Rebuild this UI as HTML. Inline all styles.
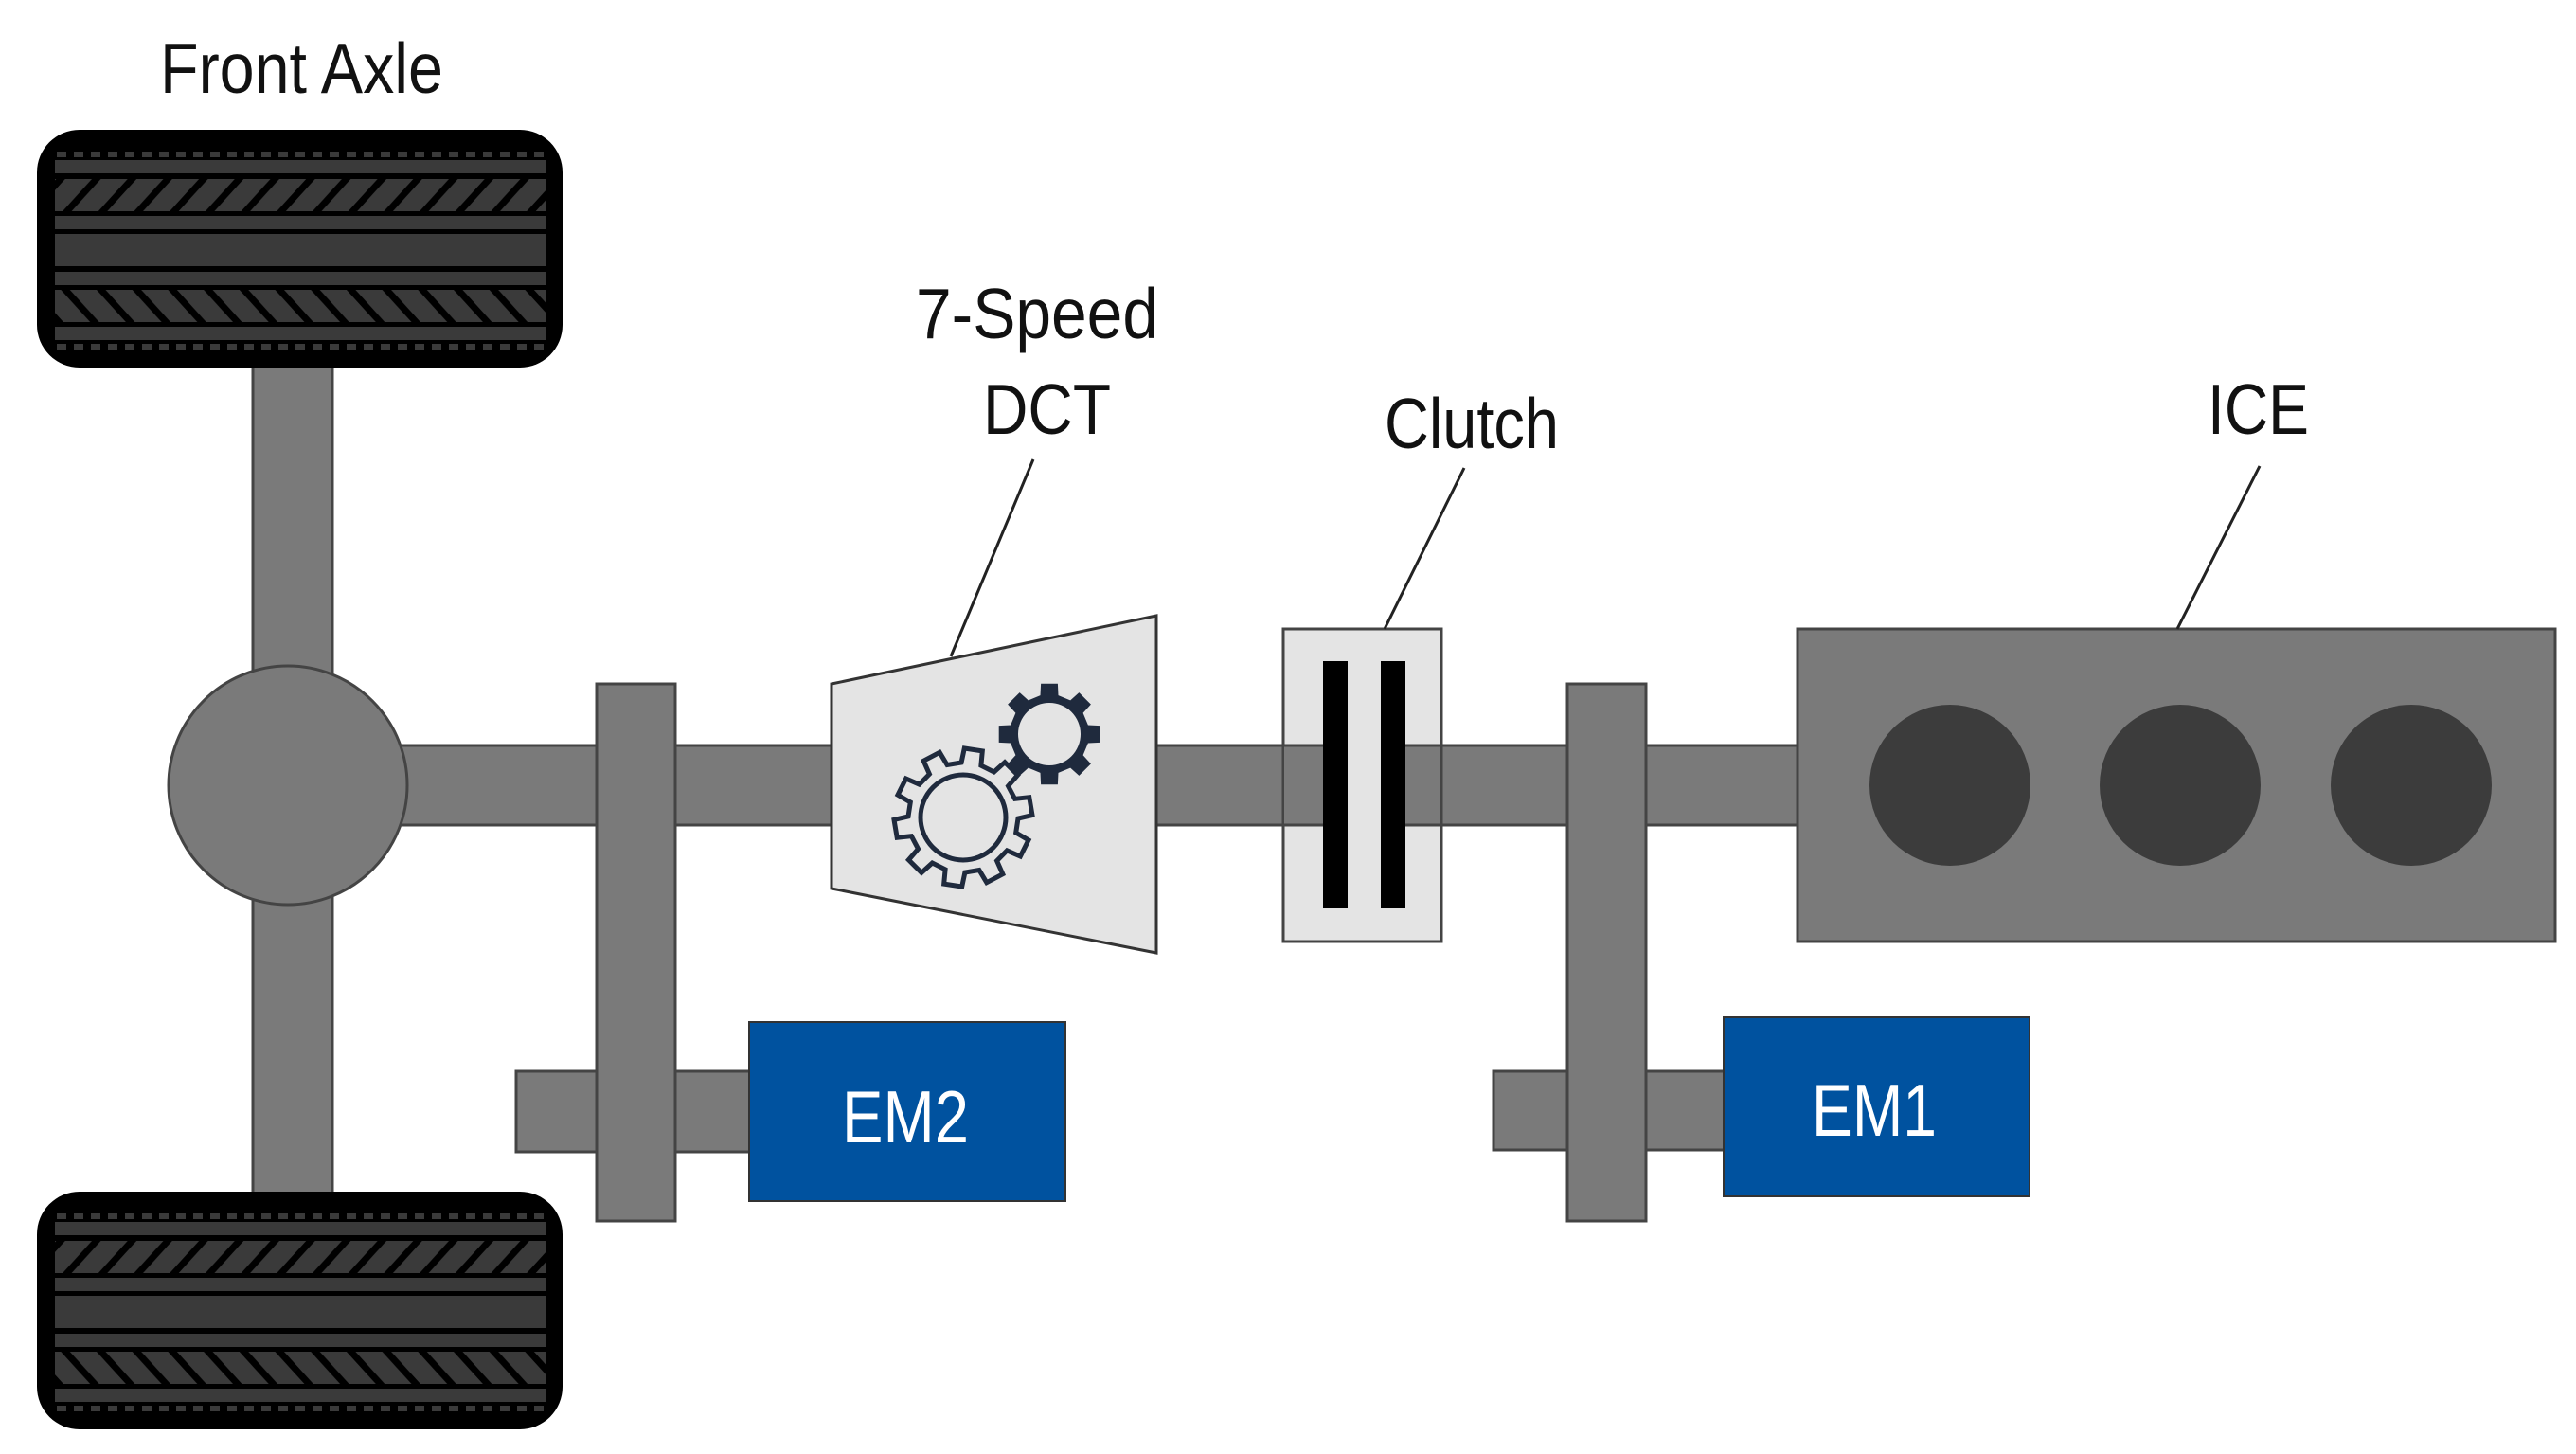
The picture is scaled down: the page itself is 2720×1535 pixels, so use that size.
<!DOCTYPE html>
<html><head><meta charset="utf-8"><style>
html,body{margin:0;padding:0;background:#fff;}
svg{display:block;}
text{font-family:"Liberation Sans",sans-serif;}
</style></head><body>
<svg width="2720" height="1535" viewBox="0 0 2720 1535" xmlns="http://www.w3.org/2000/svg">
<defs>
<pattern id="d1" patternUnits="userSpaceOnUse" width="37.7" height="40" patternTransform="translate(0,189)">
<rect width="37.7" height="40" fill="#3a3a3a"/>
<path d="M-10,40 L30,-4 M27.7,40 L67.7,-4 M-47.7,40 L-7.7,-4" stroke="#000" stroke-width="7"/>
</pattern>
<pattern id="d2" patternUnits="userSpaceOnUse" width="37.7" height="40" patternTransform="translate(0,306)">
<rect width="37.7" height="40" fill="#3a3a3a"/>
<path d="M-10,-4 L30,40 M27.7,-4 L67.7,40 M-47.7,-4 L-7.7,40" stroke="#000" stroke-width="7"/>
</pattern>
<g id="tire">
<rect x="39" y="137" width="555" height="251" rx="45" fill="#000"/>
<line x1="60" y1="163" x2="575" y2="163" stroke="#3a3a3a" stroke-width="6" stroke-dasharray="10,8"/>
<rect x="58" y="169" width="518" height="14" fill="#3a3a3a"/>
<rect x="58" y="189" width="518" height="34" fill="url(#d1)"/>
<rect x="58" y="228" width="518" height="14" fill="#3a3a3a"/>
<rect x="58" y="247" width="518" height="34" fill="#3a3a3a"/>
<rect x="58" y="287" width="518" height="14" fill="#3a3a3a"/>
<rect x="58" y="306" width="518" height="34" fill="url(#d2)"/>
<rect x="58" y="345" width="518" height="14" fill="#3a3a3a"/>
<line x1="60" y1="366" x2="575" y2="366" stroke="#3a3a3a" stroke-width="6" stroke-dasharray="10,8"/>
</g>
</defs>

<rect x="267" y="380" width="84" height="885" fill="#7a7a7a" stroke="#444" stroke-width="3"/>
<use href="#tire"/>
<use href="#tire" transform="translate(0,1121)"/>

<rect x="400" y="787" width="1500" height="84" fill="#7a7a7a" stroke="#444" stroke-width="3"/>
<circle cx="304" cy="829" r="126" fill="#7a7a7a" stroke="#444" stroke-width="3"/>

<rect x="545" y="1131" width="250" height="85" fill="#7a7a7a" stroke="#444" stroke-width="3"/>
<rect x="630" y="722" width="83" height="567" fill="#7a7a7a" stroke="#444" stroke-width="3"/>
<rect x="791" y="1079" width="334" height="189" fill="#00529f" stroke="#333" stroke-width="2"/>
<text x="889" y="1206" font-size="78" fill="#fff" textLength="134" lengthAdjust="spacingAndGlyphs">EM2</text>

<polygon points="878,722 1221,650 1221,1006 878,938" fill="#e4e4e4" stroke="#333" stroke-width="3"/>
<path id="g1" fill="none" stroke="#1f2a3d" stroke-width="5"/>
<circle cx="1017" cy="863" r="45" fill="none" stroke="#1f2a3d" stroke-width="5"/>
<path id="g2" fill="#1f2a3d" fill-rule="evenodd"/>
<line x1="1091" y1="485" x2="1004" y2="693" stroke="#222" stroke-width="3"/>
<text x="967" y="357" font-size="75" fill="#111" textLength="256" lengthAdjust="spacingAndGlyphs">7-Speed</text>
<text x="1038" y="458" font-size="75" fill="#111" textLength="135" lengthAdjust="spacingAndGlyphs">DCT</text>

<rect x="1355" y="664" width="167" height="330" fill="#e4e4e4" stroke="#444" stroke-width="3"/>
<rect x="1356" y="787" width="41" height="84" fill="#7a7a7a"/>
<line x1="1356" y1="787" x2="1397" y2="787" stroke="#444" stroke-width="3"/>
<line x1="1356" y1="871" x2="1397" y2="871" stroke="#444" stroke-width="3"/>
<rect x="1484" y="787" width="37" height="84" fill="#7a7a7a"/>
<line x1="1484" y1="787" x2="1521" y2="787" stroke="#444" stroke-width="3"/>
<line x1="1484" y1="871" x2="1521" y2="871" stroke="#444" stroke-width="3"/>
<rect x="1397" y="698" width="26" height="261" fill="#000"/>
<rect x="1458" y="698" width="26" height="261" fill="#000"/>
<line x1="1546" y1="494" x2="1462" y2="664" stroke="#222" stroke-width="3"/>
<text x="1462" y="473" font-size="75" fill="#111" textLength="184" lengthAdjust="spacingAndGlyphs">Clutch</text>

<rect x="1577" y="1131" width="246" height="83" fill="#7a7a7a" stroke="#444" stroke-width="3"/>
<rect x="1655" y="722" width="83" height="567" fill="#7a7a7a" stroke="#444" stroke-width="3"/>
<rect x="1820" y="1074" width="323" height="189" fill="#00529f" stroke="#333" stroke-width="2"/>
<text x="1913" y="1199" font-size="78" fill="#fff" textLength="132" lengthAdjust="spacingAndGlyphs">EM1</text>

<rect x="1898" y="664" width="800" height="330" fill="#7a7a7a" stroke="#444" stroke-width="3"/>
<circle cx="2059" cy="829" r="85" fill="#3c3c3c"/>
<circle cx="2302" cy="829" r="85" fill="#3c3c3c"/>
<circle cx="2546" cy="829" r="85" fill="#3c3c3c"/>
<line x1="2386" y1="492" x2="2299" y2="664" stroke="#222" stroke-width="3"/>
<text x="2331" y="458" font-size="75" fill="#111" textLength="107" lengthAdjust="spacingAndGlyphs">ICE</text>

<text x="169" y="98" font-size="75" fill="#111" textLength="299" lengthAdjust="spacingAndGlyphs">Front Axle</text>
</svg>
<script>
function gear(cx,cy,n,ro,ri,off){
  var d="",step=2*Math.PI/n,tw=step*0.42;
  for(var i=0;i<n;i++){
    var a=off+i*step;
    var pts=[[ri,a-tw/2-step*0.08],[ro,a-tw/2],[ro,a+tw/2],[ri,a+tw/2+step*0.08]];
    pts.forEach(function(p,j){
      var x=(cx+p[0]*Math.cos(p[1])).toFixed(1),y=(cy+p[0]*Math.sin(p[1])).toFixed(1);
      d+=(i==0&&j==0?"M":"L")+x+","+y+" ";
    });
  }
  return d+"Z";
}
document.getElementById("g1").setAttribute("d",gear(1017,863,10,73,58,-Math.PI/2+0.15));
var h="M1141,775 a33,33 0 1,0 -66,0 a33,33 0 1,0 66,0 Z";
document.getElementById("g2").setAttribute("d",gear(1108,775,8,54,42,-Math.PI/2)+" "+h);
</script>
</body></html>
